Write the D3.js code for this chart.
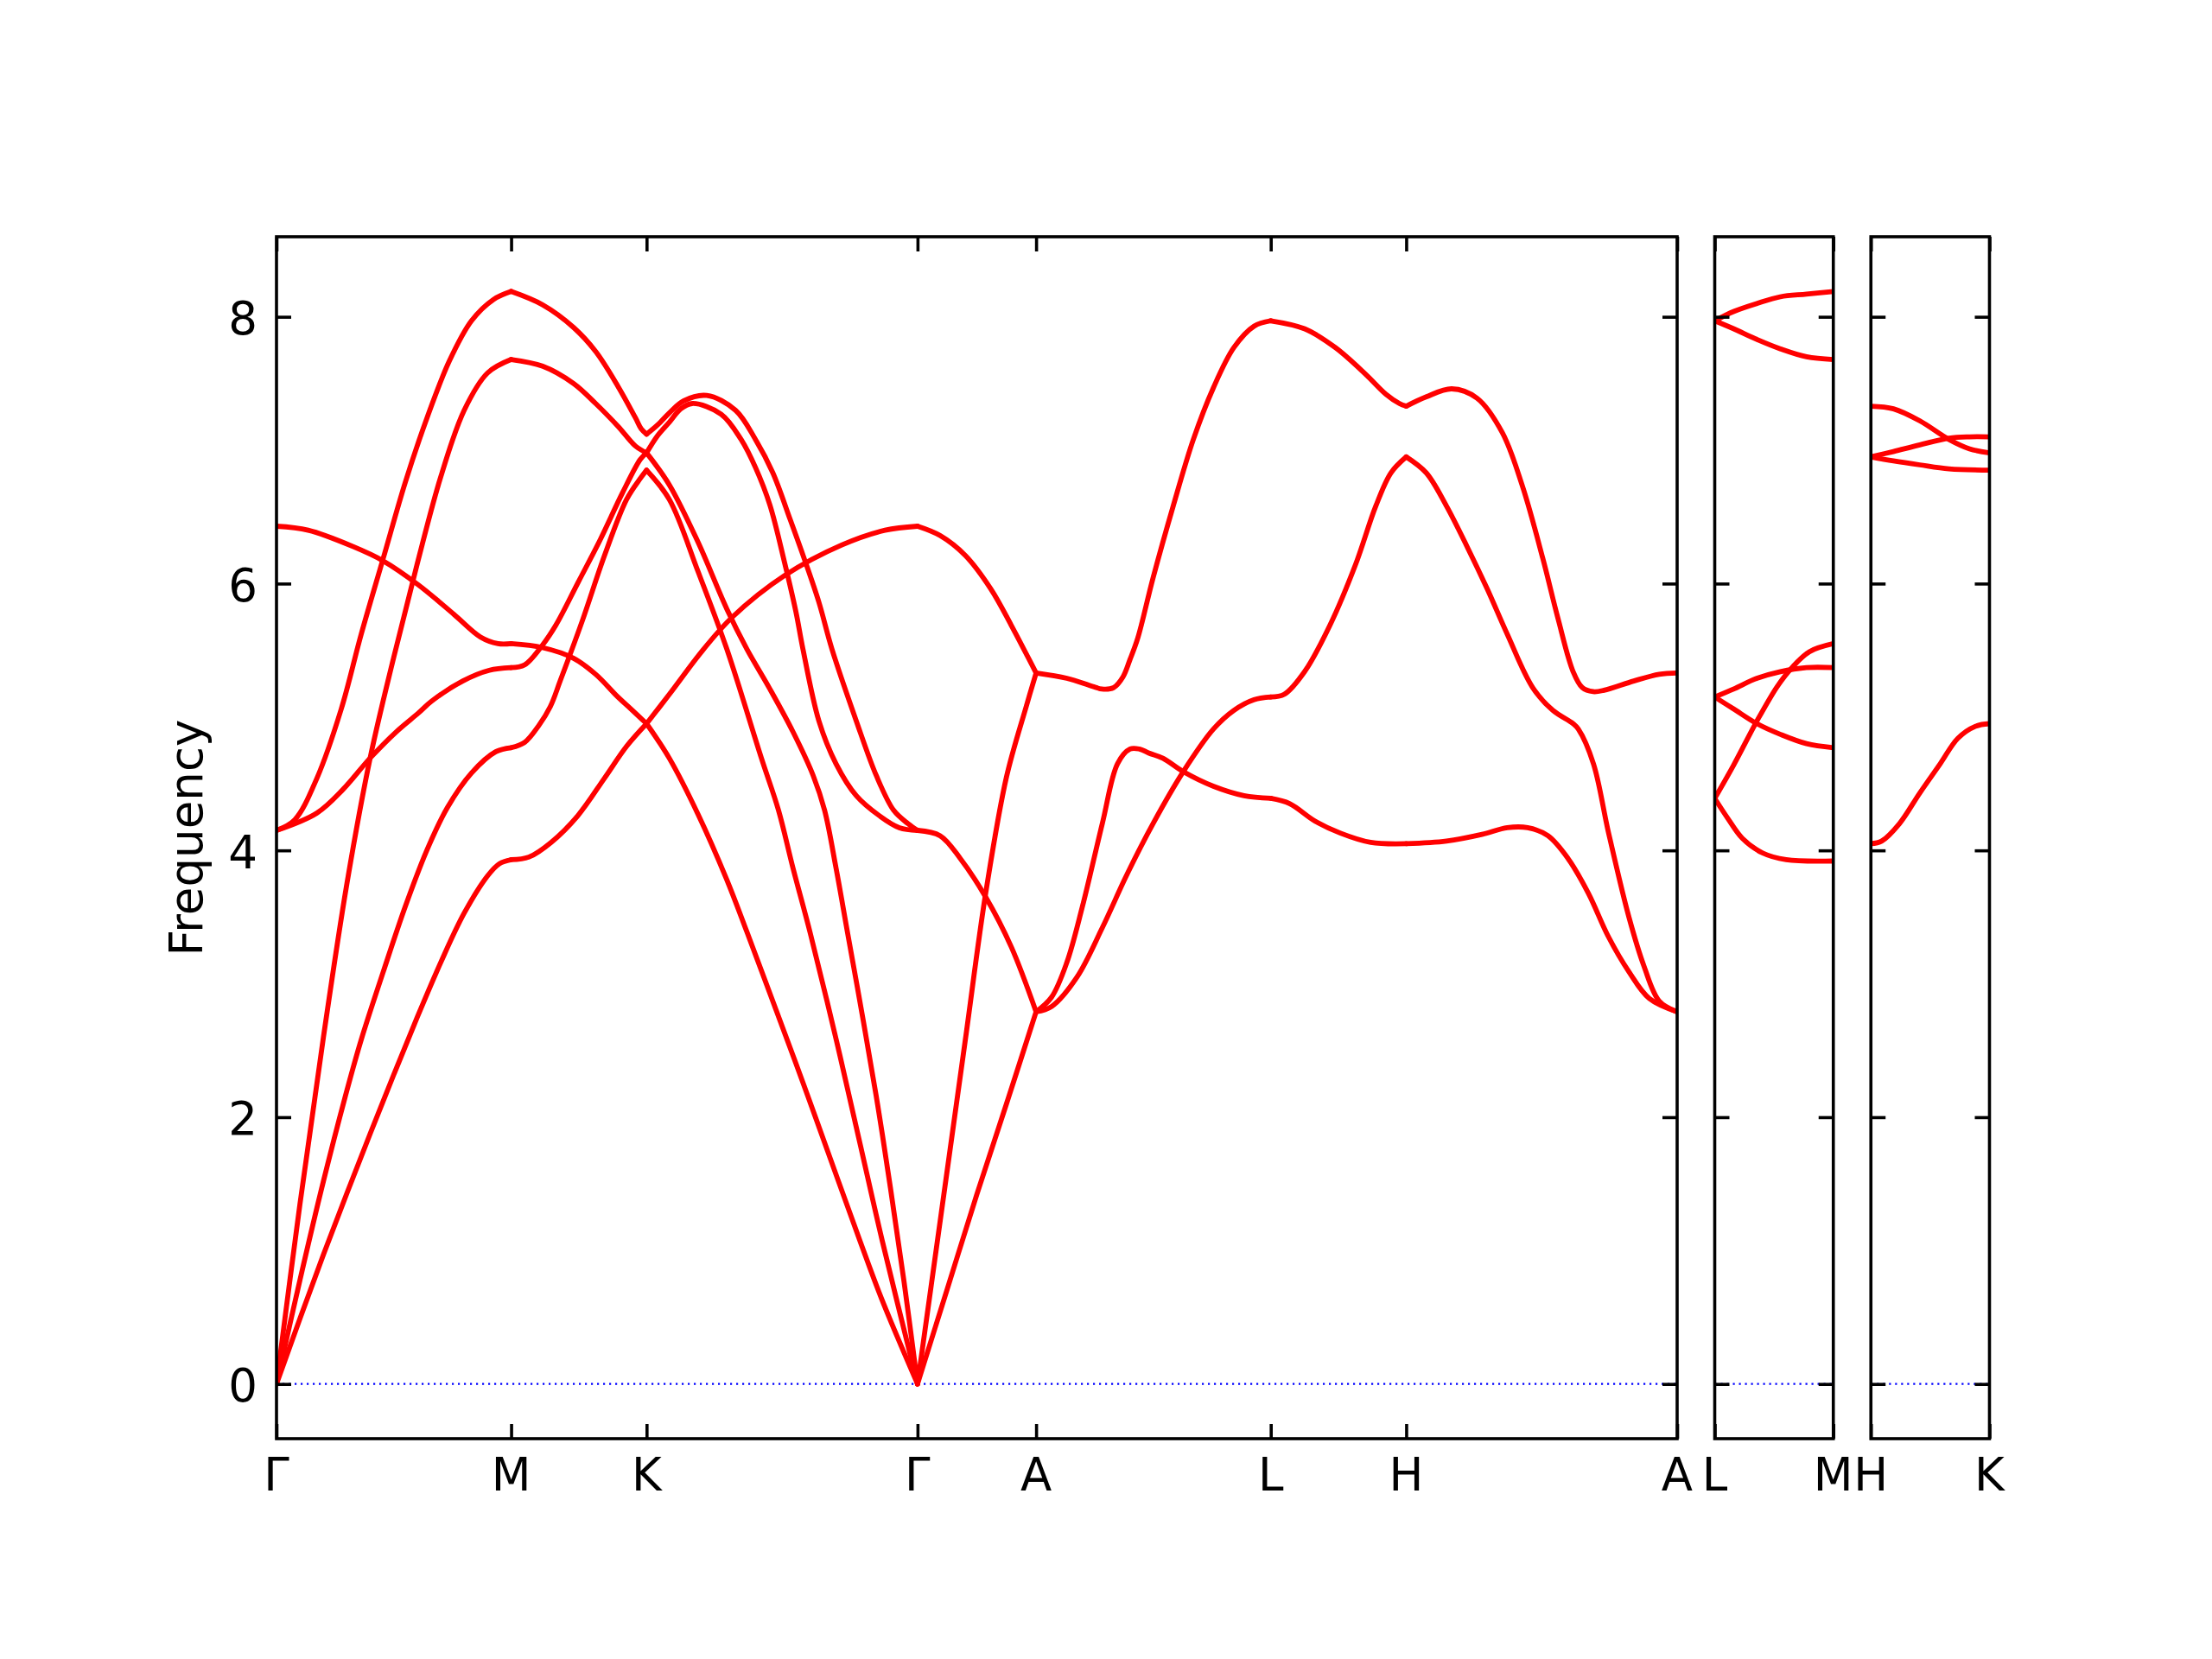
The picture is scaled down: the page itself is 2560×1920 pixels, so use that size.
<!DOCTYPE html>
<html>
<head>
<meta charset="utf-8">
<script src="https://cdn.jsdelivr.net/npm/d3@7"></script>
<style>
  html, body { margin: 0; padding: 0; background: #ffffff; }
  svg { display: block; }
  text { font-family: "DejaVu Sans", sans-serif; fill: #000; }
</style>
</head>
<body>
<svg id="chart" width="2560" height="1920"></svg>
<script>
// ---------------- DATA ----------------
// y axis
const yTicks = [0, 2, 4, 6, 8];
const yLabel = "Frequency";
const yDomain = [-0.41, 8.6];

// path segments (hexagonal BZ, reciprocal lengths) per panel
const mainLabels = ["Γ", "M", "K", "Γ", "A", "L", "H", "A"];
const mainSegLengths = [0.5774, 0.3333, 0.6667, 0.2918, 0.5774, 0.3333, 0.6667];
const panel2Labels = ["L", "M"];
const panel2SegLengths = [0.2918];
const panel3Labels = ["H", "K"];
const panel3SegLengths = [0.2918];

// Each segment: list of bands, each band = [t (0..1 along segment), frequency]
const segGM = [
  [[0,0],[0.1,0.49],[0.2,0.97],[0.3,1.43],[0.4,1.88],[0.5,2.32],[0.6,2.75],[0.7,3.16],[0.8,3.53],[0.9,3.81],[0.95,3.9],[1,3.93]],
  [[0,0],[0.1,0.78],[0.2,1.52],[0.3,2.2],[0.361,2.58],[0.455,3.09],[0.549,3.58],[0.643,4.01],[0.728,4.32],[0.831,4.58],[0.935,4.74],[1,4.77]],
  [[0,0],[0.1,1.35],[0.2,2.6],[0.3,3.75],[0.4,4.7],[0.5,5.45],[0.6,6.15],[0.7,6.8],[0.8,7.3],[0.9,7.58],[1,7.68]],
  [[0,4.15],[0.078,4.23],[0.172,4.54],[0.276,5.06],[0.361,5.62],[0.455,6.19],[0.549,6.76],[0.643,7.25],[0.737,7.67],[0.831,7.97],[0.925,8.13],[1,8.19]],
  [[0,4.15],[0.172,4.28],[0.285,4.46],[0.398,4.69],[0.511,4.89],[0.605,5.03],[0.662,5.12],[0.794,5.27],[0.907,5.35],[1,5.37]],
  [[0,6.43],[0.135,6.40],[0.323,6.28],[0.455,6.17],[0.605,5.99],[0.756,5.77],[0.869,5.60],[0.944,5.55],[1,5.55]]
];
const segMK = [
  [[0,8.19],[0.232,8.09],[0.461,7.92],[0.624,7.74],[0.788,7.48],[0.919,7.24],[0.96,7.16],[1,7.12]],
  [[0,7.68],[0.232,7.63],[0.461,7.50],[0.624,7.35],[0.788,7.18],[0.919,7.03],[1,6.98]],
  [[0,5.55],[0.232,5.52],[0.461,5.44],[0.624,5.32],[0.788,5.15],[0.885,5.06],[1,4.95]],
  [[0,5.37],[0.099,5.39],[0.232,5.54],[0.331,5.69],[0.495,6.01],[0.658,6.33],[0.822,6.68],[0.953,6.93],[1,6.98]],
  [[0,4.77],[0.1,4.81],[0.2,4.93],[0.29,5.08],[0.362,5.27],[0.525,5.72],[0.689,6.21],[0.852,6.63],[0.955,6.79],[1,6.85]],
  [[0,3.93],[0.131,3.95],[0.295,4.06],[0.492,4.26],[0.688,4.54],[0.852,4.78],[1,4.95]]
];
const segKG = [
  [[0,4.95],[0.084,4.69],[0.19,4.27],[0.296,3.78],[0.37,3.39],[0.462,2.89],[0.55,2.41],[0.625,1.99],[0.788,1.07],[0.869,0.63],[1,0]],
  [[0,4.95],[0.084,5.17],[0.211,5.51],[0.317,5.75],[0.509,6.06],[0.721,6.29],[0.88,6.40],[1,6.43]],
  [[0,7.12],[0.041,7.19],[0.084,7.28],[0.137,7.37],[0.222,7.41],[0.328,7.30],[0.402,7.08],[0.466,6.83],[0.530,6.48],[0.583,6.18],[0.636,5.86],[0.684,5.51],[0.774,4.97],[0.848,4.56],[0.912,4.30],[0.965,4.20],[1,4.15]],
  [[0,6.98],[0.041,7.11],[0.084,7.21],[0.126,7.31],[0.169,7.35],[0.275,7.27],[0.349,7.08],[0.402,6.87],[0.455,6.59],[0.509,6.16],[0.551,5.79],[0.577,5.51],[0.636,4.97],[0.699,4.65],[0.774,4.41],[0.859,4.26],[0.933,4.17],[1,4.15]],
  [[0,6.98],[0.084,6.74],[0.19,6.31],[0.296,5.81],[0.37,5.51],[0.455,5.21],[0.54,4.89],[0.615,4.56],[0.657,4.30],[0.699,3.87],[0.742,3.38],[0.80,2.72],[0.853,2.09],[0.90,1.47],[0.95,0.77],[1,0]],
  [[0,6.85],[0.084,6.63],[0.19,6.09],[0.296,5.51],[0.424,4.69],[0.487,4.30],[0.54,3.87],[0.604,3.38],[0.70,2.58],[0.788,1.80],[0.869,1.08],[1,0]]
];
const segGA = [
  [[0,0],[0.25,0.71],[0.5,1.42],[0.75,2.1],[1,2.79]],
  [[0,4.15],[0.19,4.11],[0.36,3.94],[0.575,3.65],[0.789,3.28],[1,2.79]],
  [[0,0],[0.2,1.28],[0.4,2.56],[0.575,3.68],[0.75,4.55],[0.917,5.08],[1,5.33]],
  [[0,6.43],[0.19,6.36],[0.404,6.21],[0.618,5.96],[0.789,5.69],[1,5.33]]
];
const segAL = [
  [[0,2.79],[0.066,2.90],[0.131,3.16],[0.196,3.57],[0.282,4.20],[0.347,4.65],[0.40,4.76],[0.44,4.76],[0.48,4.73],[0.541,4.69],[0.627,4.59],[0.756,4.48],[0.886,4.41],[1,4.39]],
  [[0,2.79],[0.066,2.83],[0.174,3.05],[0.282,3.42],[0.39,3.83],[0.498,4.20],[0.627,4.59],[0.756,4.91],[0.843,5.05],[0.929,5.13],[1,5.15]],
  [[0,5.33],[0.131,5.29],[0.239,5.23],[0.28,5.21],[0.33,5.22],[0.37,5.30],[0.40,5.43],[0.433,5.59],[0.498,6.04],[0.584,6.58],[0.670,7.08],[0.756,7.47],[0.843,7.77],[0.929,7.93],[1,7.97]]
];
const segLH = [
  [[0,7.97],[0.25,7.91],[0.476,7.77],[0.70,7.57],[0.85,7.42],[0.95,7.35],[1,7.33]],
  [[0,5.15],[0.10,5.17],[0.25,5.34],[0.438,5.69],[0.625,6.14],[0.775,6.58],[0.887,6.83],[1,6.95]],
  [[0,4.39],[0.14,4.35],[0.326,4.22],[0.513,4.13],[0.738,4.06],[1,4.05]]
];
const segHA = [
  [[0,7.33],[0.074,7.40],[0.168,7.46],[0.261,7.39],[0.355,7.13],[0.429,6.73],[0.504,6.19],[0.560,5.74],[0.616,5.34],[0.65,5.22],[0.69,5.19],[0.73,5.20],[0.84,5.27],[0.934,5.32],[1,5.33]],
  [[0,6.95],[0.074,6.83],[0.149,6.58],[0.224,6.28],[0.299,5.96],[0.373,5.62],[0.467,5.22],[0.541,5.05],[0.616,4.95],[0.635,4.91],[0.691,4.65],[0.747,4.13],[0.822,3.50],[0.878,3.13],[0.934,2.87],[1,2.79]],
  [[0,4.05],[0.149,4.07],[0.28,4.12],[0.373,4.17],[0.448,4.17],[0.523,4.11],[0.597,3.94],[0.672,3.68],[0.747,3.35],[0.822,3.09],[0.897,2.89],[1,2.79]]
];
const segLM = [
  [[0,7.97],[0.16,8.04],[0.356,8.10],[0.553,8.15],[0.774,8.17],[1,8.19]],
  [[0,7.97],[0.16,7.91],[0.356,7.83],[0.553,7.76],[0.774,7.70],[1,7.68]],
  [[0,5.15],[0.16,5.21],[0.356,5.29],[0.553,5.34],[0.774,5.37],[1,5.37]],
  [[0,5.15],[0.16,5.06],[0.356,4.95],[0.553,4.87],[0.774,4.80],[1,4.77]],
  [[0,4.39],[0.16,4.64],[0.356,4.97],[0.528,5.23],[0.651,5.37],[0.799,5.49],[1,5.55]],
  [[0,4.39],[0.11,4.24],[0.233,4.09],[0.405,3.98],[0.602,3.93],[1,3.92]]
];
const segHK = [
  [[0,7.33],[0.19,7.31],[0.412,7.22],[0.659,7.08],[0.832,7.01],[1,6.98]],
  [[0,6.95],[0.19,6.99],[0.412,7.04],[0.659,7.09],[0.832,7.10],[1,7.10]],
  [[0,6.95],[0.19,6.92],[0.412,6.89],[0.659,6.86],[1,6.85]],
  [[0,4.05],[0.091,4.07],[0.24,4.20],[0.412,4.43],[0.585,4.65],[0.733,4.84],[0.881,4.93],[1,4.95]]
];

const panels = [
  { labels: mainLabels, lengths: mainSegLengths, segs: [segGM, segMK, segKG, segGA, segAL, segLH, segHA], yLabels: true },
  { labels: panel2Labels, lengths: panel2SegLengths, segs: [segLM], yLabels: false },
  { labels: panel3Labels, lengths: panel3SegLengths, segs: [segHK], yLabels: false }
];

// ---------------- LAYOUT ----------------
const svg = d3.select("#chart");
const plotTop = 274, plotBottom = 1665, left0 = 320, mainRight = 1941;
const gapPx = 43.5;
const fontSize = 53;
const tickLen = 17;
const axisW = 3.6;
const bandColor = "#ff0000";
const bandW = 5.8;

const mainTotal = d3.sum(mainSegLengths);
const pxPerUnit = (mainRight - left0) / mainTotal;

const y = d3.scaleLinear().domain(yDomain).range([plotBottom, plotTop]);

let xStart = left0;
panels.forEach((p, pi) => {
  const total = d3.sum(p.lengths);
  const width = total * pxPerUnit;
  const x = d3.scaleLinear().domain([0, total]).range([xStart, xStart + width]);
  const tickPos = [0].concat(Array.from(d3.cumsum(p.lengths)));

  const g = svg.append("g");
  const clipId = "clip" + pi;
  svg.append("clipPath").attr("id", clipId)
    .append("rect").attr("x", xStart).attr("y", plotTop).attr("width", width).attr("height", plotBottom - plotTop);

  // zero line (blue dotted)
  g.append("line")
    .attr("x1", x(0)).attr("x2", x(total))
    .attr("y1", y(0)).attr("y2", y(0))
    .attr("stroke", "#0000ff").attr("stroke-width", 2.2)
    .attr("stroke-dasharray", "2.2,4.8");

  // bands
  const line = d3.line()
    .x(d => d[0]).y(d => y(d[1]))
    .curve(d3.curveCatmullRom.alpha(0.5));
  const bandG = g.append("g").attr("clip-path", `url(#${clipId})`);
  p.segs.forEach((seg, si) => {
    const q0 = tickPos[si], len = p.lengths[si];
    seg.forEach(band => {
      const pts = band.map(([t, f]) => [x(q0 + t * len), f]);
      bandG.append("path")
        .attr("d", line(pts))
        .attr("fill", "none")
        .attr("stroke", bandColor)
        .attr("stroke-width", bandW)
        .attr("stroke-linejoin", "round")
        .attr("stroke-linecap", "round");
    });
  });

  // axes via d3 axis generators (inward ticks)
  const xAxisBottom = d3.axisTop(x).tickValues(tickPos).tickSize(tickLen).tickFormat("");
  const xAxisTop = d3.axisBottom(x).tickValues(tickPos).tickSize(tickLen).tickFormat("");
  const yAxisLeft = d3.axisRight(y).tickValues(yTicks).tickSize(tickLen).tickFormat("");
  const yAxisRight = d3.axisLeft(y).tickValues(yTicks).tickSize(tickLen).tickFormat("");

  const styleAxis = sel => {
    sel.select(".domain").remove();
    sel.selectAll(".tick line").attr("stroke", "#000").attr("stroke-width", axisW);
  };
  g.append("g").attr("transform", `translate(0,${plotBottom})`).call(xAxisBottom).call(styleAxis);
  g.append("g").attr("transform", `translate(0,${plotTop})`).call(xAxisTop).call(styleAxis);
  g.append("g").attr("transform", `translate(${x(0)},0)`).call(yAxisLeft).call(styleAxis);
  g.append("g").attr("transform", `translate(${x(total)},0)`).call(yAxisRight).call(styleAxis);

  // frame
  g.append("rect")
    .attr("x", x(0)).attr("y", plotTop)
    .attr("width", width).attr("height", plotBottom - plotTop)
    .attr("fill", "none").attr("stroke", "#000").attr("stroke-width", axisW);

  // x tick labels
  g.selectAll("text.xl").data(p.labels).enter().append("text")
    .attr("class", "xl")
    .attr("x", (d, i) => x(tickPos[i]))
    .attr("y", 1725)
    .attr("text-anchor", "middle")
    .attr("font-size", fontSize)
    .text(d => d);

  // y tick labels
  if (p.yLabels) {
    g.selectAll("text.yl").data(yTicks).enter().append("text")
      .attr("class", "yl")
      .attr("x", x(0) - 22)
      .attr("y", d => y(d) + 20.5)
      .attr("text-anchor", "end")
      .attr("font-size", fontSize)
      .text(d => d);

    g.append("text")
      .attr("transform", `translate(234,${(plotTop + plotBottom) / 2}) rotate(-90)`)
      .attr("text-anchor", "middle")
      .attr("font-size", fontSize)
      .text(yLabel);
  }

  xStart += width + gapPx;
});
</script>
</body>
</html>
